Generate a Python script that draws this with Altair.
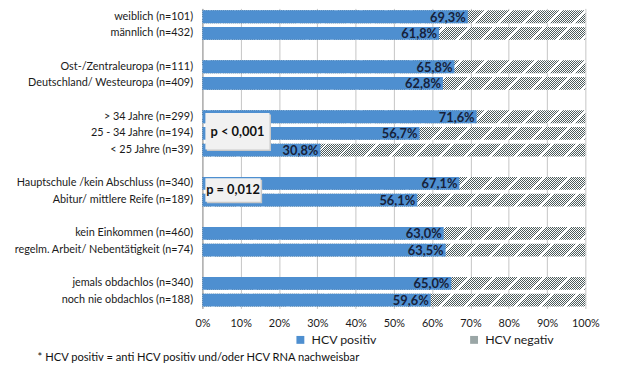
import altair as alt
import pandas as pd

# " " entries are the empty spacer rows between the groups
categories = [
    "weiblich (n=101)", "männlich (n=432)", " ",
    "Ost-/Zentraleuropa (n=111)", "Deutschland/ Westeuropa (n=409)", "  ",
    "> 34 Jahre (n=299)", "25 - 34 Jahre (n=194)", "< 25 Jahre (n=39)", "   ",
    "Hauptschule /kein Abschluss (n=340)", "Abitur/ mittlere Reife (n=189)", "    ",
    "kein Einkommen (n=460)", "regelm. Arbeit/ Nebentätigkeit (n=74)", "     ",
    "jemals obdachlos (n=340)", "noch nie obdachlos (n=188)",
]
positive = [69.3, 61.8, None, 65.8, 62.8, None, 71.6, 56.7, 30.8, None,
            67.1, 56.1, None, 63.0, 63.5, None, 65.0, 59.6]
series = ["HCV positiv", "HCV negativ"]
colors = ["#4e8fd0", "#9aa6a6"]
x_ticks = [0, 10, 20, 30, 40, 50, 60, 70, 80, 90, 100]
footnote = "* HCV positiv = anti HCV positiv und/oder HCV RNA nachweisbar"
pbox_texts = ["p < 0,001", "p = 0,012"]

W, H, BAR = 388, 304, 13

is_row = [v is not None for v in positive]
df = pd.DataFrame({
    "cat": categories,
    "pos": [v if v is not None else 0 for v in positive],
    "zero": [0] * len(categories),
    "full": [100 if r else 0 for r in is_row],
    "label": [(f"{v:.1f}".replace(".", ",") + "%") if v is not None else "" for v in positive],
    "s_pos": [series[0]] * len(categories),
})

# diagonal hatch via hard-stop linear gradient over the full-width bar
k = (W + BAR) / (W * W + BAR * BAR)
n_periods = 190
stops = []
for i in range(n_periods):
    a = round(i / n_periods, 6)
    b = round((i + 0.45) / n_periods, 6)
    c = round((i + 1) / n_periods, 6)
    stops += [
        alt.GradientStop(offset=a, color="#4d5c5c"),
        alt.GradientStop(offset=b, color="#4d5c5c"),
        alt.GradientStop(offset=b, color="#ffffff"),
        alt.GradientStop(offset=c, color="#ffffff"),
    ]
hatch = alt.Gradient(gradient="linear", stops=stops, x1=0, y1=0,
                     x2=round(W * k, 5), y2=round(BAR * k, 5))

FONT = "Lato"
step = H / len(categories)
pi = round((step - BAR) / step, 4)

y_enc = alt.Y(
    "cat:N",
    sort=None,
    scale=alt.Scale(paddingInner=pi, paddingOuter=round(pi / 2, 4)),
    axis=alt.Axis(
        title=None,
        ticks=False,
        domainColor="#999999",
        labelPadding=10,
        labelLimit=300,
        labelFont=FONT,
        labelFontSize=11,
        labelColor="#1a1a1a",
        grid=False,
    ),
)
x_scale = alt.Scale(domain=[0, 100], nice=False)
color_scale = alt.Scale(domain=series, range=colors)

base = alt.Chart(df)

neg = base.mark_bar(fill=hatch).encode(
    x=alt.X(
        "zero:Q",
        scale=x_scale,
        axis=alt.Axis(
            title=None,
            values=x_ticks,
            tickCount=11,
            labelOverlap=False,
            labelFlush=False,
            labelExpr="datum.value + '%'",
            domain=False,
            ticks=False,
            grid=True,
            gridColor="#c4c4c4",
            labelFont=FONT,
            labelFontSize=11,
            labelColor="#1a1a1a",
            labelPadding=9,
        ),
    ),
    x2="full:Q",
    y=y_enc,
)

pos = base.mark_bar().encode(
    x=alt.X("zero:Q", scale=x_scale),
    x2="pos:Q",
    y=alt.Y("cat:N", sort=None),
    color=alt.Color(
        "s_pos:N",
        scale=color_scale,
        legend=alt.Legend(
            title=None,
            orient="none",
            legendX=93,
            legendY=329.5,
            direction="horizontal",
            symbolType="square",
            symbolSize=64,
            symbolStrokeWidth=0,
            labelFont=FONT,
            labelFontSize=12.5,
            labelColor="#1a1a1a",
            columnPadding=92,
            padding=0,
            labelOffset=5,
        ),
    ),
)

labels = base.mark_text(
    align="right", baseline="middle", dx=-2, dy=1,
    font=FONT, fontSize=13, fontWeight="bold", color="#16213a",
).encode(
    x=alt.X("pos:Q", scale=x_scale),
    y=alt.Y("cat:N", sort=None),
    text="label:N",
)

ann = pd.DataFrame({"t": [0]})
def box(x1, x2, y1, y2):
    shadow = alt.Chart(ann).mark_rect(color="#c8c8c8").encode(
        x=alt.value(x1 + 1.5), x2=alt.value(x2 + 1.5), y=alt.value(y1 + 1.5), y2=alt.value(y2 + 1.5))
    face = alt.Chart(ann).mark_rect(color="#f1f1f1").encode(
        x=alt.value(x1), x2=alt.value(x2), y=alt.value(y1), y2=alt.value(y2))
    return shadow + face

box1 = box(3, 68, 106, 143)
box2 = box(3, 59, 172, 196)
t1 = alt.Chart(ann).mark_text(font=FONT, fontSize=13, fontWeight="bold", color="#111111").encode(
    x=alt.value(35.5), y=alt.value(125), text=alt.value(pbox_texts[0]))
t2 = alt.Chart(ann).mark_text(font=FONT, fontSize=13, fontWeight="bold", color="#111111").encode(
    x=alt.value(31), y=alt.value(184.5), text=alt.value(pbox_texts[1]))
foot = alt.Chart(ann).mark_text(font=FONT, fontSize=11.3, align="left", baseline="middle", color="#111111").encode(
    x=alt.value(-167), y=alt.value(354), text=alt.value(footnote))

chart = alt.layer(neg, pos, labels, box1, box2, t1, t2, foot).properties(
    width=W,
    height=H,
    autosize="none",
    padding={"left": 197, "top": -2, "right": 27, "bottom": 62},
).configure_view(stroke=None)

chart.save("out.html", embed_options={"renderer": "svg", "actions": False})
